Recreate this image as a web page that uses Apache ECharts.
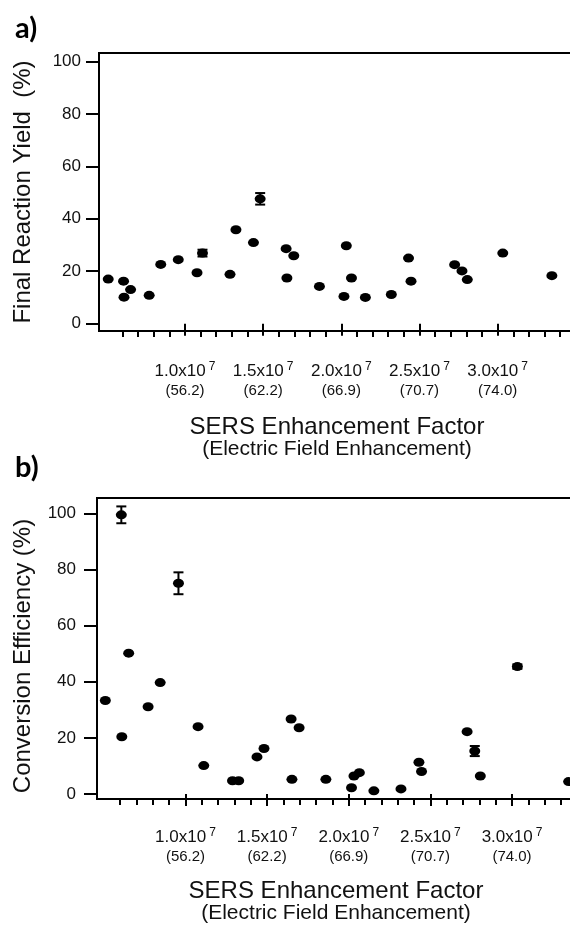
<!DOCTYPE html>
<html>
<head>
<meta charset="utf-8">
<script src="https://cdn.jsdelivr.net/npm/echarts@6/dist/echarts.min.js"></script>
<style>
html,body{margin:0;padding:0;background:#fff;}
#chart{width:570px;height:925px;}
</style>
</head>
<body>
<div id="chart"></div>
<script>
// SERS enhancement factor of each sample, in units of 10^7
const enhancementFactor = [0.509,0.607,0.610,0.652,0.771,0.845,0.957,1.077,1.112,1.288,1.326,1.438,1.481,1.647,1.652,1.696,1.860,2.017,2.032,2.065,2.154,2.320,2.430,2.446,2.725,2.772,2.806,3.033,3.347];
// a) final reaction yield (%)
const reactionYield = [17.0,16.2,10.1,13.0,10.8,22.6,24.4,19.4,26.9,18.8,35.8,30.9,47.6,28.6,17.4,25.9,14.2,10.4,29.7,17.4,10.0,11.1,25.0,16.2,22.5,20.1,16.8,26.9,18.3];
const reactionYieldErr = [0,0,0,0,0,0,0,0,1.3,0,0,0,2.2,0,0,0,0,0,0,0,0,0,0,0,0,0,0,0,0];
// b) conversion efficiency (%)
const conversionEff = [33.3,99.5,20.4,50.2,31.1,39.7,75.1,24.0,10.1,4.7,4.7,13.2,16.2,26.7,5.2,23.6,5.2,2.2,6.4,7.6,1.1,1.8,11.3,8.0,22.2,15.3,6.4,45.4,4.4];
const conversionEffErr = [0,3.0,0,0,0,0,3.9,0,0,0,0,0,0,0,0,0,0,0,0,0,0,0,0,0,0,1.8,0,0.8,0];

// tick labels
const majorTicks = [1.0,1.5,2.0,2.5,3.0];
const efLabels = ['1.0x10','1.5x10','2.0x10','2.5x10','3.0x10'];
const efExponent = '7';
const fieldLabels = ['(56.2)','(62.2)','(66.9)','(70.7)','(74.0)'];
const minorTicks = [0.6,0.7,0.8,0.9,1.1,1.2,1.3,1.4,1.6,1.7,1.8,1.9,2.1,2.2,2.3,2.4,2.6,2.7,2.8,2.9,3.1,3.2,3.3,3.4];
const yTicks = [0,20,40,60,80,100];

const FONT = '"Liberation Sans", Arial, sans-serif';
const chart = echarts.init(document.getElementById('chart'), null, {renderer:'canvas'});

const panels = [
  {top:53, height:278, left:99, xmin:0.450, xmax:3.495, ymin:-2.8, ymax:103.2, yName:'Final Reaction Yield  (%)', vals:reactionYield, errs:reactionYieldErr, labelMargin:30, yLabelMargin:18, nameGapY:64, namePad:[0,0,0,0], nameGapX:84},
  {top:498, height:301, left:97, xmin:0.458, xmax:3.386, ymin:-1.8, ymax:105.5, yName:'Conversion Efficiency (%)', vals:conversionEff, errs:conversionEffErr, labelMargin:28, yLabelMargin:21, nameGapY:62, namePad:[0,15,0,0], nameGapX:80}
];

const grid=[], xAxis=[], yAxis=[], series=[];
panels.forEach((p,i)=>{
  grid.push({left:p.left, top:p.top, height:p.height, right:-5, outerBoundsMode:'none', containLabel:false,
    show:true, borderColor:'#000', borderWidth:2, backgroundColor:'transparent'});
  xAxis.push({
    gridIndex:i, type:'value', position:'bottom', min:p.xmin, max:p.xmax,
    axisLine:{show:false}, splitLine:{show:false},
    axisTick:{show:true, customValues:majorTicks, length:12, lineStyle:{color:'#000', width:2}},
    axisLabel:{show:true, customValues:majorTicks, margin:p.labelMargin, color:'#111', fontFamily:FONT,
      formatter:(v)=>{
        const k = majorTicks.findIndex(t=>Math.abs(t-v)<1e-6);
        if(k<0) return '';
        return '{m|'+efLabels[k]+'}{s|'+efExponent+'}\n{p|'+fieldLabels[k]+'}';
      },
      rich:{
        m:{fontSize:17, lineHeight:20, fontFamily:FONT, color:'#111'},
        s:{fontSize:12, lineHeight:12, verticalAlign:'top', padding:[0,0,0,3], fontFamily:FONT, color:'#111'},
        p:{fontSize:15, lineHeight:20, fontFamily:FONT, color:'#111'}
      }
    },
    name:'{t|SERS Enhancement Factor}\n{u|(Electric Field Enhancement)}',
    nameLocation:'middle', nameGap:p.nameGapX,
    nameTextStyle:{rich:{
      t:{fontSize:24, lineHeight:24, fontFamily:FONT, color:'#111'},
      u:{fontSize:21, lineHeight:21, fontFamily:FONT, color:'#111'}
    }}
  });
  xAxis.push({
    gridIndex:i, type:'value', position:'top', offset:-p.height, min:p.xmin, max:p.xmax,
    axisLine:{show:false}, splitLine:{show:false}, axisLabel:{show:false},
    axisTick:{show:true, inside:true, customValues:minorTicks, length:6, lineStyle:{color:'#000', width:2}}
  });
  yAxis.push({
    gridIndex:i, type:'value', min:p.ymin, max:p.ymax,
    axisLine:{show:false}, splitLine:{show:false},
    axisTick:{show:true, customValues:yTicks, length:13, lineStyle:{color:'#000', width:2}},
    axisLabel:{show:true, customValues:yTicks, margin:p.yLabelMargin, fontSize:17, color:'#111', fontFamily:FONT},
    name:p.yName, nameLocation:'middle', nameGap:p.nameGapY,
    nameTextStyle:{fontSize:24, color:'#111', fontFamily:FONT, padding:p.namePad}
  });
  const data = enhancementFactor.map((x,k)=>[x, p.vals[k], p.errs[k]]);
  series.push({
    type:'custom', xAxisIndex:2*i, yAxisIndex:i, data:data, silent:true, z:2,
    renderItem:(params, api)=>{
      const x=api.value(0), y=api.value(1), e=api.value(2);
      if(!e) return null;
      const t=api.coord([x,y+e]), b=api.coord([x,y-e]);
      const st={stroke:'#000', lineWidth:2};
      return {type:'group', children:[
        {type:'line', shape:{x1:t[0],y1:t[1],x2:b[0],y2:b[1]}, style:st},
        {type:'line', shape:{x1:t[0]-5,y1:t[1],x2:t[0]+5,y2:t[1]}, style:st},
        {type:'line', shape:{x1:b[0]-5,y1:b[1],x2:b[0]+5,y2:b[1]}, style:st}
      ]};
    }
  });
  series.push({
    type:'scatter', xAxisIndex:2*i, yAxisIndex:i, data:data.map(d=>[d[0],d[1]]),
    symbol:'circle', symbolSize:[11,9], itemStyle:{color:'#000', opacity:1}, z:3, silent:true
  });
});

chart.setOption({
  animation:false,
  backgroundColor:'#fff',
  grid, xAxis, yAxis, series,
  graphic:[
    {type:'text', left:15, top:14, style:{text:'a)', font:'bold 29px Lato, "Open Sans", sans-serif', fill:'#000'}},
    {type:'text', left:15, top:453, style:{text:'b)', font:'bold 29px Lato, "Open Sans", sans-serif', fill:'#000'}}
  ]
});
</script>
</body>
</html>
